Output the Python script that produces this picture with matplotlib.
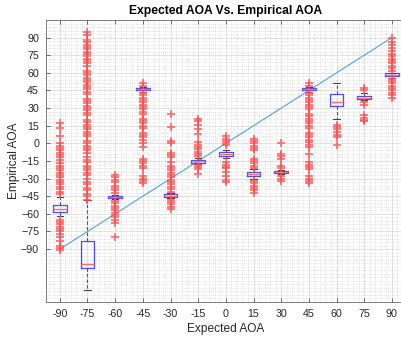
import matplotlib
matplotlib.use("Agg")
import matplotlib.pyplot as plt
from matplotlib.ticker import MultipleLocator, FixedLocator

# Expected angle of arrival for each test group (degrees)
expected_aoa = [-90, -75, -60, -45, -30, -15, 0, 15, 30, 45, 60, 75, 90]

# Box statistics of the empirical AOA per group
medians = [-56, -102.5, -46, 46, -44.5, -15, -9, -26, -24.4, 46, 35, 39, 58]
q1 = [-58.5, -106, -46.8, 45, -45.5, -16.3, -10.8, -27.8, -25, 45, 31.8, 38, 57]
q3 = [-52.5, -83, -45, 47, -43.5, -13.8, -7.1, -24.4, -23.8, 47, 41.8, 40, 59.5]
whisker_low = [-62, -125, -47.5, 44, -46.5, -17.5, -12.5, -30, -26.5, 44, 20.5, 37, 55.5]
whisker_high = [-46, -48, -44, 48, -42.5, -12.5, -5.5, -21.5, -22.5, 48, 51.6, 43, 60]

# Outlying empirical AOA readings per group
outliers = [
    [17, 13, 6, 0, -2, -4, -6, -8, -10, -12, -14, -17, -19, -21, -23, -25, -27,
     -29, -31, -33, -35, -37, -39, -41, -43,
     -65, -67, -69, -71, -73, -75, -77, -80, -83, -87, -89, -91],
    [95, 92, 88, 86, 84, 82, 80, 78, 76, 74, 72, 70, 68, 66, 62, 60, 58, 56, 54,
     52, 50, 48, 46, 44, 42, 38, 36, 34, 32, 30, 28, 26, 24, 20, 18, 16, 14, 12,
     10, 8, 6, 2, 0, -2, -4, -6, -8, -12, -14, -16, -19, -21, -23, -25, -27,
     -30, -33, -35, -38, -40, -43, -45, -48],
    [-27, -29, -31, -33, -36, -38, -40, -42, -49, -51, -53, -55, -57, -59, -61,
     -63, -65, -68, -80],
    [51, 49, 43, 41, 39, 37, 35, 33, 31, 29, 27, 25, 21, 19, 17, 15, 13, 9, 7,
     5, 3, 0, -3, -13, -15, -17, -19, -21, -28, -30, -32, -34],
    [25, 14, 2, 0, -8, -10, -12, -16, -19, -21, -23, -25, -27, -29, -31, -33,
     -35, -37, -39, -41, -48, -50, -52, -54, -56],
    [21, 19, 16, 12, 8, 1, -1, -3, -5, -7, -9, -11, -18, -20, -22, -26],
    [6, 4, 2, 0, -1, -16, -18, -20, -21, -24, -28, -31, -33],
    [4, 2, 0, -2, -4, -6, -13, -15, -17, -19, -21, -32, -34, -36, -38, -40, -42],
    [0, -9, -11, -13, -19, -21, -28, -30, -32],
    [51, 49, 43, 41, 39, 37, 35, 33, 31, 29, 25, 23, 21, 19, 17, 15, 13, 9, 7,
     5, 3, 1, -1, -3, -9, -16, -18, -20, -22, -28, -30, -32, -34],
    [16, 14, 12, 10, 7, 5, -1],
    [47, 45, 35, 33, 24, 22, 20, 19],
    [90, 86, 84, 81, 79, 76, 74, 72, 70, 68, 66, 64, 62,
     55, 53, 51, 49, 47, 45, 43, 41, 39],
]

x_label = "Expected AOA"
y_label = "Empirical AOA"
title = "Expected AOA Vs. Empirical AOA"

plt.rcParams["font.family"] = ["Liberation Sans", "DejaVu Sans"]
text_color = "#262626"

fig = plt.figure(figsize=(4.01, 3.41), dpi=100)
ax = fig.add_axes([0.1147, 0.1144, 0.897, 0.827])

positions = list(range(1, len(expected_aoa) + 1))
stats = []
for i in range(len(expected_aoa)):
    stats.append(dict(med=medians[i], q1=q1[i], q3=q3[i],
                      whislo=whisker_low[i], whishi=whisker_high[i],
                      fliers=outliers[i]))

ax.bxp(stats, positions=positions, widths=0.5, capwidths=0.22,
       boxprops=dict(color="#4a4aff", linewidth=0.9),
       medianprops=dict(color="#ff6b6b", linewidth=1.0),
       whiskerprops=dict(color="#555555", linewidth=0.8, linestyle=(0, (3, 2))),
       capprops=dict(color="#444444", linewidth=0.8),
       flierprops=dict(marker="+", markeredgecolor="#ff5050",
                       markersize=5.8, markeredgewidth=1.3, alpha=0.8))

# Ideal response: empirical equals expected
ax.plot(positions, expected_aoa, color="#4da3dc", linewidth=0.8, zorder=1)

ax.set_xlim(0.5, len(expected_aoa) + 0.5)
ax.set_ylim(-135, 105)
ax.xaxis.set_major_locator(FixedLocator(positions))
ax.set_xticklabels([str(v) for v in expected_aoa])
ax.yaxis.set_major_locator(FixedLocator(expected_aoa))
ax.xaxis.set_minor_locator(MultipleLocator(0.2))
ax.yaxis.set_minor_locator(MultipleLocator(3))

ax.grid(which="major", color="#dcdcdc", linewidth=0.6)
ax.grid(which="minor", color="#c8c8c8", linewidth=0.5, linestyle=(0, (1, 2)))
ax.set_axisbelow(True)

ax.tick_params(which="major", direction="in", length=3, width=0.6,
               colors="#555555", labelcolor=text_color, labelsize=7.7,
               top=True, right=True, pad=5)
ax.tick_params(which="minor", length=0)
for s in ax.spines.values():
    s.set_color("#666666")
    s.set_linewidth(0.6)

ax.set_xlabel(x_label, fontsize=8.6, color=text_color, labelpad=3)
ax.set_ylabel(y_label, fontsize=8.6, color=text_color, labelpad=1)
ax.set_title(title, fontsize=8.7, fontweight="bold", color="black", pad=4)

fig.savefig("out.png", dpi=100, facecolor="white")
